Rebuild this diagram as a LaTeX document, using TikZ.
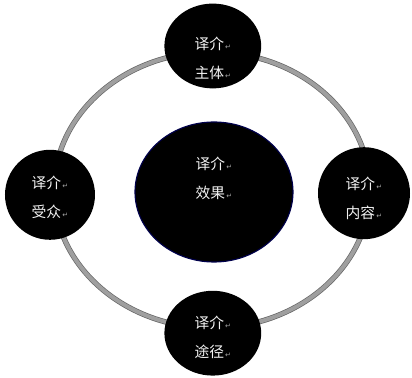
\documentclass[tikz,border=0pt]{standalone}
\usepackage{fontspec}
\setmainfont{Noto Sans CJK SC}
\newfontfamily\symfont{DejaVu Sans}
\usetikzlibrary{shapes.geometric}
\newcommand{\pmark}{{\symfont\fontsize{5}{5}\selectfont\color{gray!70}\,↵}}

\begin{document}
\begin{tikzpicture}[
    blob/.style={ellipse, fill=black, inner sep=0pt, text=white!90!gray,
        align=center, font=\fontsize{10.5}{20.5}\selectfont},
]
    \useasboundingbox (-5.3,-4.7) rectangle (5.0,4.75);
    % 外圈
    \coordinate (O) at (0,0);
    \draw[draw=black!60, line width=0.5pt, double=gray!75, double distance=2.8pt] (O) ellipse [x radius=3.95, y radius=3.45];
    % 中心
    \node[blob, draw=blue!30!black, line width=0.8pt, minimum width=3.95cm, minimum height=3.5cm] (E) at (0.05,-0.05) {};
    \node[blob] at ([yshift=0.35cm]E) {译介\pmark\\效果\pmark};
    % 四个节点
    \node[blob, minimum width=2.42cm, minimum height=2.12cm] (T) at (0.02,3.6) {};
    \node[blob, minimum width=2.25cm, minimum height=2.25cm] (L) at (-4.05,-0.12) {};
    \node[blob, minimum width=2.3cm, minimum height=2.3cm] (R) at (3.8,-0.08) {};
    \node[blob, minimum width=2.42cm, minimum height=2.12cm] (B) at (0.02,-3.58) {};
    \node[blob] at ([yshift=-0.3cm]T) {译介\pmark\\主体\pmark};
    \node[blob] at ([yshift=-0.06cm]L) {译介\pmark\\受众\pmark};
    \node[blob] at ([yshift=-0.12cm]R) {译介\pmark\\内容\pmark};
    \node[blob] at ([yshift=-0.1cm]B) {译介\pmark\\途径\pmark};
\end{tikzpicture}
\end{document}
